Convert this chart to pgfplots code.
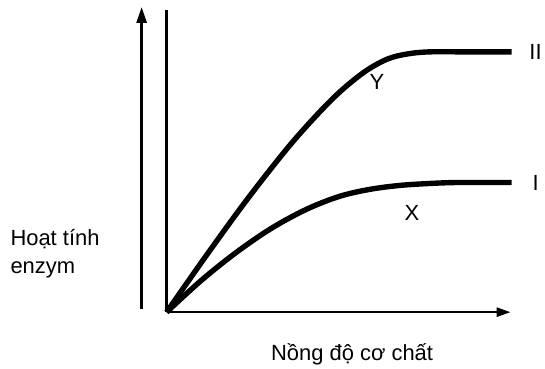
\documentclass[border=0pt]{standalone}
\usepackage{fontspec}
\setmainfont{Liberation Sans}
\usepackage{pgfplots}
\pgfplotsset{compat=1.18}
\usetikzlibrary{arrows.meta}
\begin{document}
\begin{tikzpicture}
\begin{axis}[
  x=1pt, y=1pt,
  xmin=0, xmax=345, ymin=0, ymax=303,
  axis x line=bottom, axis y line=left,
  x axis line style={-{Triangle[length=14pt,width=9pt]}},
  y axis line style={-},
  axis line style={line width=2.6pt},
  xtick=\empty, ytick=\empty,
  clip=false,
  font=\fontsize{22}{26}\selectfont,
]
\path (axis cs:-167,-53) (axis cs:378,313);
\addplot[line width=5.4pt, smooth, tension=0.55] coordinates {
(0,0) (40,57) (80,112) (120,163) (150,197) (175,222) (200,242) (222,254) (242,259) (264,261) (300,261) (346,261)};
\addplot[line width=5.4pt, smooth, tension=0.55] coordinates {
(0,0) (35,32) (70,60) (105,84) (140,103) (173,116) (203,123) (233,127) (263,129) (290,130) (320,130) (346,130)};
\draw[line width=2.8pt, -{Triangle[length=16pt,width=10pt]}] (axis cs:-25,3) -- (axis cs:-25,306);
\node at (axis cs:370,261) {II};
\node at (axis cs:370,130) {I};
\node at (axis cs:211,231) {Y};
\node at (axis cs:246,99) {X};
\node[anchor=west, align=left] at (axis cs:-160,59) {Hoạt tính\\[2pt]enzym};
\node at (axis cs:186,-42) {Nồng độ cơ chất};
\end{axis}
\end{tikzpicture}
\end{document}
